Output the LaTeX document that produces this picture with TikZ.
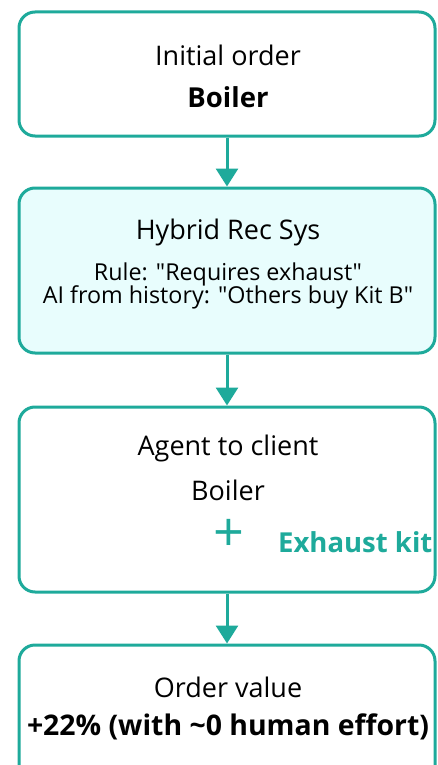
\documentclass[tikz,border=0pt]{standalone}
\usepackage{fontspec}
\setmainfont{Open Sans}[Ligatures=TeXOff]
\usetikzlibrary{arrows.meta}
\definecolor{teal1}{RGB}{30,170,155}
\definecolor{cyanfill}{RGB}{232,253,253}
\tikzset{
  box/.style={draw=teal1, line width=3pt, rounded corners=16pt, minimum width=416pt, inner sep=0pt},
  big/.style={font=\fontsize{27}{30}\selectfont, text=black, inner sep=0pt},
  bigbold/.style={font=\fontsize{27.5}{30}\selectfont\bfseries, text=black, inner sep=0pt},
  small/.style={font=\fontsize{23.3}{26}\selectfont, text=black, inner sep=0pt},
  flow/.style={draw=teal1, line width=3pt, -{Triangle[width=22pt,length=18pt]}}
}
\begin{document}
\begin{tikzpicture}[x=1pt,y=-1pt]
\useasboundingbox (0,0) rectangle (437,765);
\clip (0,0) rectangle (437,765);
\node[box, fill=white, minimum height=124pt] (b1) at (227,74) {};
\node[box, fill=cyanfill, minimum height=165pt] (b2) at (227,270.5) {};
\node[box, fill=white, minimum height=185pt] (b3) at (227,499.5) {};
\node[box, fill=white, minimum height=150pt] (b4) at (227,720) {};
\node[big] (t1) at (228,55) {Initial order};
\node[bigbold] (t2) at (228,97) {Boiler};
\node[big] (t3) at (228,232) {Hybrid Rec Sys};
\node[small] (t4) at (228,274) {Rule: "Requires exhaust"};
\node[small] (t5) at (228,297.5) {AI from history: "Others buy Kit B"};
\node[big] (t6) at (228,448) {Agent to client};
\node[big] (t7) at (228,490) {Boiler};
\node[font=\fontsize{54}{54}\selectfont, text=teal1, inner sep=0pt] (t8) at (228.5,535.5) {+};
\node[bigbold, text=teal1, anchor=west] (t9) at (278,542) {Exhaust kit};
\node[big] (t10) at (228,687) {Order value};
\node[bigbold, font=\fontsize{28.4}{30}\selectfont\bfseries] (t11) at (228,727) {+22\% (with \textasciitilde0 human effort)};
\draw[flow] (b1.south) -- (b2.north);
\draw[flow] (b2.south) -- (b3.north);
\draw[flow] (b3.south) -- (b4.north);
\end{tikzpicture}
\end{document}
